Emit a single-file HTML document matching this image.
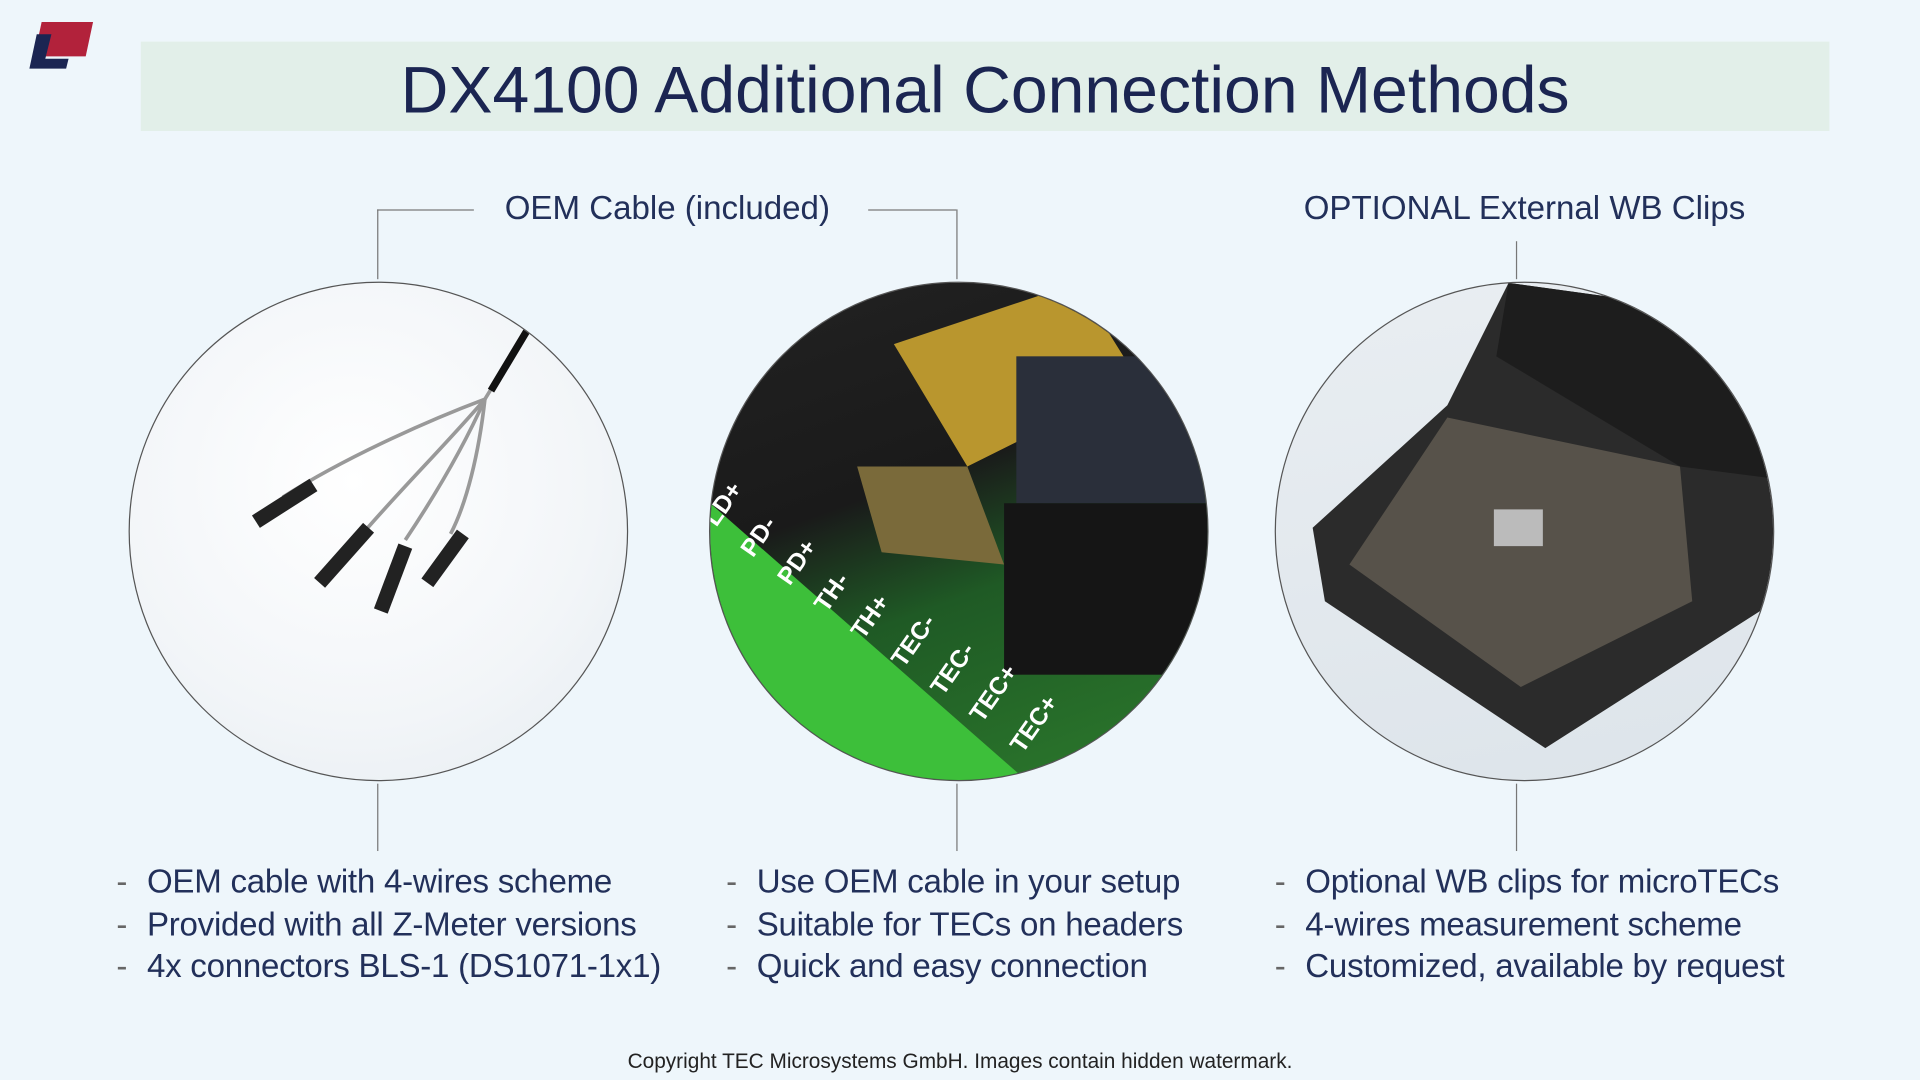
<!DOCTYPE html>
<html><head><meta charset="utf-8"><style>
html,body{margin:0;padding:0;background:#eef6fb;overflow:hidden}
#s{position:absolute;left:0;top:0;width:1568px;height:882px;transform:scale(1.22449);transform-origin:0 0;font-family:"Liberation Sans",sans-serif;color:#1b2552}
.a{position:absolute}
.t{position:absolute;font-size:27px;white-space:nowrap;color:#22305a}
.c{position:absolute;width:408px;height:408px;border-radius:50%;overflow:hidden;box-sizing:border-box;border:1px solid #555}
.ln{position:absolute;background:#777}
.b{position:absolute;font-size:27px;line-height:34.5px;white-space:nowrap;color:#22305a;letter-spacing:-0.2px}
.b span{display:inline-block;width:25px;color:#666}
</style></head><body><div id="s">
<svg class="a" style="left:20px;top:16px" width="60" height="44"><polygon points="14,2 56,2 50,30 8,30" fill="#b2223b"/><polygon points="10,12 22,12 17,32 36,32 34,40 4,40" fill="#1b2552"/></svg>
<div class="a" style="left:115px;top:34px;width:1379px;height:73px;background:#e2efe9"></div>
<div class="t" style="left:115px;width:1379px;top:39px;text-align:center;font-size:54px;line-height:70px;color:#1b2552">DX4100 Additional Connection Methods</div>

<div class="t" style="left:395px;width:300px;text-align:center;top:155px">OEM Cable (included)</div>
<div class="t" style="left:1045px;width:400px;text-align:center;top:155px">OPTIONAL External WB Clips</div>
<div class="ln" style="left:308px;top:171px;width:79px;height:1px"></div>
<div class="ln" style="left:308px;top:171px;width:1px;height:57px"></div>
<div class="ln" style="left:709px;top:171px;width:72px;height:1px"></div>
<div class="ln" style="left:781px;top:171px;width:1px;height:57px"></div>
<div class="ln" style="left:1238px;top:197px;width:1px;height:31px"></div>
<div class="ln" style="left:308px;top:640px;width:1px;height:55px"></div>
<div class="ln" style="left:781px;top:640px;width:1px;height:55px"></div>
<div class="ln" style="left:1238px;top:640px;width:1px;height:55px"></div>

<div class="c" style="left:105px;top:230px;background:radial-gradient(circle at 45% 40%,#ffffff,#f2f5f8 60%,#e4ebf0)">
<svg width="408" height="408"><path d="M325,38 L290,95 C250,110 180,140 125,175" stroke="#999" stroke-width="3" fill="none"/><path d="M290,95 C260,130 220,170 190,205" stroke="#999" stroke-width="3" fill="none"/><path d="M290,95 C270,140 245,180 225,210" stroke="#999" stroke-width="3" fill="none"/><path d="M290,95 C285,140 275,180 262,205" stroke="#999" stroke-width="3" fill="none"/><path d="M325,38 L295,88" stroke="#111" stroke-width="6"/><path d="M103,195 L150,165" stroke="#222" stroke-width="12"/><path d="M155,245 L195,200" stroke="#222" stroke-width="12"/><path d="M205,268 L225,215" stroke="#222" stroke-width="12"/><path d="M243,245 L272,205" stroke="#222" stroke-width="12"/></svg></div>

<div class="c" style="left:579px;top:230px;background:linear-gradient(160deg,#222 0%,#1a1a1a 40%,#1f5a25 60%,#2c7a2c 100%)">
<svg width="408" height="408"><polygon points="0,180 0,408 260,408" fill="#3dbf3a"/><polygon points="150,50 300,0 350,80 210,150" fill="#b9962e"/><polygon points="120,150 210,150 240,230 140,220" fill="#7a6a3a"/><rect x="250" y="60" width="160" height="120" fill="#2a2f3a"/><rect x="240" y="180" width="170" height="140" fill="#151515"/>
<g fill="#fff" font-family="Liberation Sans" font-size="20" font-weight="bold"><text transform="translate(5,200) rotate(-55)">LD+</text><text transform="translate(35,225) rotate(-55)">PD-</text><text transform="translate(65,248) rotate(-55)">PD+</text><text transform="translate(95,270) rotate(-55)">TH-</text><text transform="translate(125,292) rotate(-55)">TH+</text><text transform="translate(158,315) rotate(-55)">TEC-</text><text transform="translate(190,338) rotate(-55)">TEC-</text><text transform="translate(222,360) rotate(-55)">TEC+</text><text transform="translate(255,385) rotate(-55)">TEC+</text></g></svg></div>

<div class="c" style="left:1041px;top:230px;background:linear-gradient(170deg,#e9eef2 0%,#dde4ea 100%)">
<svg width="408" height="408"><polygon points="190,0 408,30 408,260 220,380 40,260 30,200 140,100" fill="#2b2b2b"/><polygon points="140,110 330,150 340,260 200,330 60,230" fill="#57524a"/><polygon points="190,0 408,30 408,160 330,150 180,60" fill="#1d1d1d"/><rect x="178" y="185" width="40" height="30" fill="#bbb"/></svg></div>

<div class="b" style="left:95px;top:703px"><span>-</span>OEM cable with 4-wires scheme<br><span>-</span>Provided with all Z-Meter versions<br><span>-</span>4x connectors BLS-1 (DS1071-1x1)</div>
<div class="b" style="left:593px;top:703px"><span>-</span>Use OEM cable in your setup<br><span>-</span>Suitable for TECs on headers<br><span>-</span>Quick and easy connection</div>
<div class="b" style="left:1041px;top:703px"><span>-</span>Optional WB clips for microTECs<br><span>-</span>4-wires measurement scheme<br><span>-</span>Customized, available by request</div>

<div class="t" style="left:0;width:1568px;text-align:center;top:857px;font-size:17px;color:#222">Copyright TEC Microsystems GmbH. Images contain hidden watermark.</div>
</div></body></html>
